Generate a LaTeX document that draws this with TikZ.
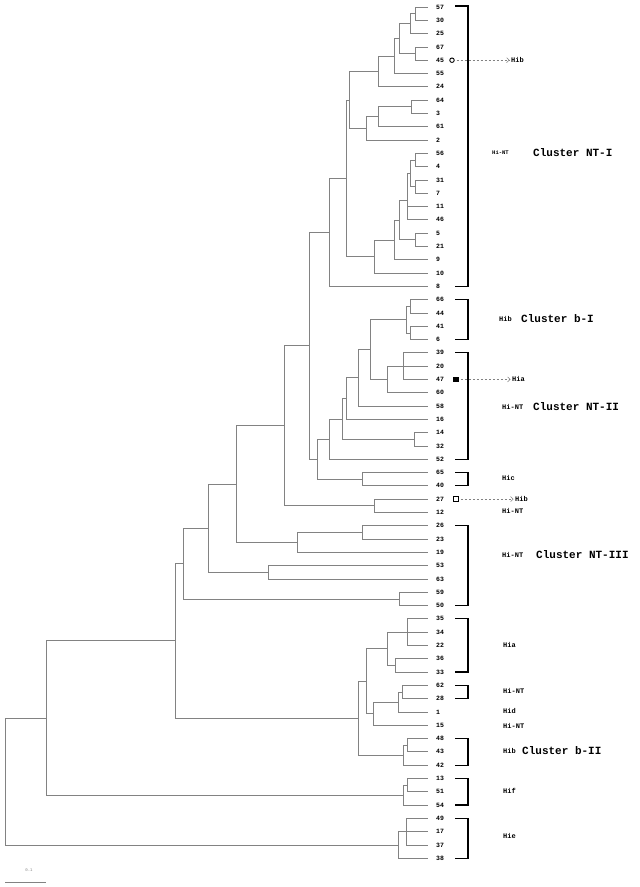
\documentclass[tikz,border=0pt]{standalone}
\usepackage{fontspec}
\setmainfont{Liberation Mono}
\usetikzlibrary{arrows.meta}
\definecolor{treegray}{RGB}{130,130,130}
\newcommand{\kids}[2]{\foreach \c in {#2}{\draw[br] (#1) |- (\c);}}
\newcommand{\brkt}[2]{\draw[bracket] (455,#1) -| (468,#2) -- (455,#2);}
\begin{document}
\begin{tikzpicture}[x=1pt,y=-1pt,
  br/.style={treegray,line width=0.7pt},
  leaflab/.style={anchor=west,inner sep=0pt,font=\fontsize{6.5}{7}\selectfont\bfseries},
  small/.style={anchor=west,inner sep=0pt,font=\fontsize{7}{8}\selectfont\bfseries},
  clus/.style={anchor=west,inner sep=0pt,font=\fontsize{11}{12}\selectfont\bfseries},
  bracket/.style={black,line width=1.1pt},
  dasharrow/.style={treegray,dash pattern=on 2.5pt off 1.5pt,line width=0.55pt,-{Straight Barb[length=2.5pt,width=5pt]},shorten <=2pt,shorten >=1.5pt}
]
\useasboundingbox (0,0) rectangle (640,887);
\fill[white] (0,0) rectangle (640,887);

% leaves
\foreach \n [count=\i from 0] in {57,30,25,67,45,55,24,64,3,61,2,56,4,31,7,11,46,5,21,9,10,8,66,44,41,6,39,20,47,60,58,16,14,32,52,65,40,27,12,26,23,19,53,63,59,50,35,34,22,36,33,62,28,1,15,48,43,42,13,51,54,49,17,37,38}{
  \coordinate (l\n) at (428,{7+13.3*\i});
  \node[leaflab] (t\n) at (436,{7+13.3*\i}) {\n};
}

% internal nodes
\coordinate (a1) at (415,13.65);
\coordinate (a2) at (410,23.6);
\coordinate (a3) at (415,53.55);
\coordinate (a4) at (399,38.6);
\coordinate (a5) at (394,56);
\coordinate (a6) at (378,71.4);
\coordinate (a7) at (411,106.75);
\coordinate (a8) at (378,116.7);
\coordinate (a9) at (366,128.4);
\coordinate (a10) at (349,99.9);
\coordinate (b1) at (415,159.95);
\coordinate (b2) at (415,186.55);
\coordinate (b3) at (410,173.25);
\coordinate (b4) at (407,200);
\coordinate (b5) at (415,239.75);
\coordinate (b6) at (399,220);
\coordinate (b7) at (394,240);
\coordinate (b8) at (374,256.5);
\coordinate (c1) at (346,178);
\coordinate (c2) at (329,232);
\coordinate (d1) at (410,306.25);
\coordinate (d2) at (410,332.85);
\coordinate (d3) at (406,319.5);
\coordinate (d4) at (403,366.1);
\coordinate (d5) at (387,379.4);
\coordinate (d6) at (370,349.5);
\coordinate (d7) at (358,377.7);
\coordinate (d8) at (346,398.5);
\coordinate (d9) at (414,439.25);
\coordinate (d10) at (342,418.9);
\coordinate (d11) at (329,439);
\coordinate (d12) at (362,479.15);
\coordinate (d13) at (317,459.1);
\coordinate (d14) at (309,345.5);
\coordinate (d15) at (374,505.75);
\coordinate (d16) at (284,425.6);
\coordinate (e1) at (362,532.35);
\coordinate (e2) at (297,542.3);
\coordinate (e3) at (236,484);
\coordinate (e4) at (268,572.25);
\coordinate (e5) at (208,528);
\coordinate (e6) at (399,598.85);
\coordinate (e7) at (183,563.4);
\coordinate (f1) at (407,632.1);
\coordinate (f2) at (395,665.35);
\coordinate (f3) at (387,648.7);
\coordinate (f4) at (402,691.95);
\coordinate (f5) at (398,701.9);
\coordinate (f6) at (373,713.6);
\coordinate (f7) at (366,681.1);
\coordinate (f8) at (407,745.15);
\coordinate (f9) at (403,755.1);
\coordinate (f10) at (358,718.1);
\coordinate (g1) at (175,640.8);
\coordinate (g2) at (407,785.05);
\coordinate (g3) at (403,795);
\coordinate (g4) at (46,717.9);
\coordinate (h1) at (406,831.6);
\coordinate (h2) at (398,844.9);
\coordinate (root) at (5,781.4);

% branches
\kids{a1}{l57,l30}
\kids{a2}{a1,l25}
\kids{a3}{l67,l45}
\kids{a4}{a2,a3}
\kids{a5}{a4,l55}
\kids{a6}{a5,l24}
\kids{a7}{l64,l3}
\kids{a8}{a7,l61}
\kids{a9}{a8,l2}
\kids{a10}{a6,a9}
\kids{b1}{l56,l4}
\kids{b2}{l31,l7}
\kids{b3}{b1,b2}
\kids{b4}{b3,l11,l46}
\kids{b5}{l5,l21}
\kids{b6}{b4,b5}
\kids{b7}{b6,l9}
\kids{b8}{b7,l10}
\kids{c1}{a10,b8}
\kids{c2}{c1,l8}
\kids{d1}{l66,l44}
\kids{d2}{l41,l6}
\kids{d3}{d1,d2}
\kids{d4}{l39,l20,l47}
\kids{d5}{d4,l60}
\kids{d6}{d3,d5}
\kids{d7}{d6,l58}
\kids{d8}{d7,l16}
\kids{d9}{l14,l32}
\kids{d10}{d8,d9}
\kids{d11}{d10,l52}
\kids{d12}{l65,l40}
\kids{d13}{d11,d12}
\kids{d14}{c2,d13}
\kids{d15}{l27,l12}
\kids{d16}{d14,d15}
\kids{e1}{l26,l23}
\kids{e2}{e1,l19}
\kids{e3}{d16,e2}
\kids{e4}{l53,l63}
\kids{e5}{e3,e4}
\kids{e6}{l59,l50}
\kids{e7}{e5,e6}
\kids{f1}{l35,l34,l22}
\kids{f2}{l36,l33}
\kids{f3}{f1,f2}
\kids{f4}{l62,l28}
\kids{f5}{f4,l1}
\kids{f6}{f5,l15}
\kids{f7}{f3,f6}
\kids{f8}{l48,l43}
\kids{f9}{f8,l42}
\kids{f10}{f7,f9}
\kids{g1}{e7,f10}
\kids{g2}{l13,l51}
\kids{g3}{g2,l54}
\kids{g4}{g1,g3}
\kids{h1}{l49,l17,l37}
\kids{h2}{h1,l38}
\kids{root}{g4,h2}

% brackets
\brkt{6}{286.3}
\brkt{299.6}{339.5}
\brkt{352.8}{459.2}
\brkt{472.5}{485.8}
\brkt{525.7}{605.5}
\brkt{618.8}{672}
\brkt{685.3}{698.6}
\brkt{738.5}{765.1}
\brkt{778.4}{805}
\brkt{818.3}{858.2}

% markers and arrows
\node[circle,draw=black,line width=0.9pt,minimum size=4.5pt,inner sep=0pt,fill=white] (m45) at (452,60.2) {};
\node[small] (h45) at (511,60.2) {Hib};
\draw[dasharrow] (m45) -- (h45);
\node[rectangle,fill=black,minimum size=5.5pt,inner sep=0pt] (m47) at (456,379.4) {};
\node[small] (h47) at (512,379.4) {Hia};
\draw[dasharrow] (m47) -- (h47);
\node[rectangle,draw=black,line width=0.9pt,minimum size=5pt,inner sep=0pt] (m27) at (456,499.1) {};
\node[small] (h27) at (515,499.1) {Hib};
\draw[dasharrow] (m27) -- (h27);

% cluster labels
\node[anchor=west,inner sep=0pt,font=\fontsize{5.5}{6}\selectfont\bfseries] (s1) at (492,153) {Hi-NT};
\node[clus] (c1l) at (533,153) {Cluster NT-I};
\node[small] (s2) at (499,319) {Hib};
\node[clus] (c2l) at (521,319) {Cluster b-I};
\node[small] (s3) at (502,407) {Hi-NT};
\node[clus] (c3l) at (533,407) {Cluster NT-II};
\node[small] (s4) at (502,478) {Hic};
\node[small] (s5) at (502,511) {Hi-NT};
\node[small] (s6) at (502,555) {Hi-NT};
\node[clus] (c4l) at (536,555) {Cluster NT-III};
\node[small] (s7) at (503,645) {Hia};
\node[small] (s8) at (503,691) {Hi-NT};
\node[small] (s9) at (503,711) {Hid};
\node[small] (s10) at (503,726) {Hi-NT};
\node[small] (s11) at (503,751) {Hib};
\node[clus] (c5l) at (522,751) {Cluster b-II};
\node[small] (s12) at (503,791) {Hif};
\node[small] (s13) at (503,836) {Hie};

% scale bar
\coordinate (sb1) at (5,882);
\coordinate (sb2) at (46,882);
\draw[treegray,line width=0.75pt] (sb1) -- (sb2);
\node[inner sep=0pt,text=treegray,font=\fontsize{4}{4}\selectfont] (sbl) at (29,870) {0.1};
\end{tikzpicture}
\end{document}
